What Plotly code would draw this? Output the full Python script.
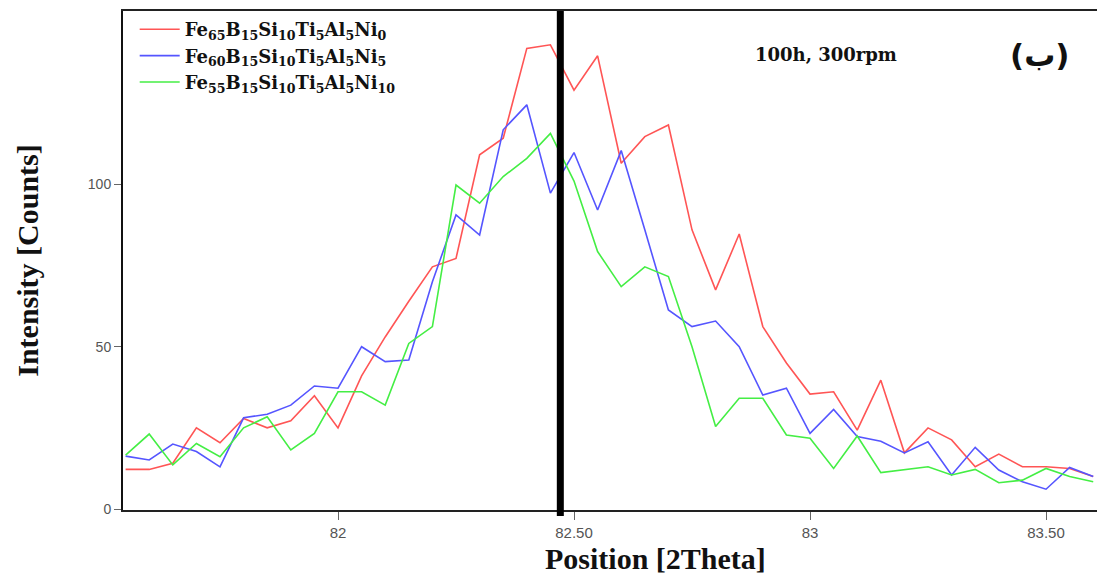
import plotly.graph_objects as go

# 2Theta positions (step 0.05)
two_theta = [round(81.55 + 0.05 * i, 2) for i in range(42)]

ni0 = [12.2, 12.2, 14.1, 25.0, 20.4, 27.9, 25.0, 27.2, 34.9, 25.0,
       41.0, 53.0, 64.0, 74.6, 77.2, 109.1, 114.2, 141.9, 143.0, 129.0,
       139.6, 106.5, 114.7, 118.3, 86.0, 67.5, 84.7, 56.2, 45.0, 35.4,
       36.1, 24.3, 39.7, 17.3, 25.0, 21.3, 13.0, 16.9, 13.0, 13.0,
       12.5, 10.0]

ni5 = [16.3, 15.1, 20.0, 17.7, 13.0, 28.1, 29.2, 32.0, 37.9, 37.2,
       50.0, 45.4, 45.9, 70.0, 90.6, 84.4, 116.8, 124.5, 97.3, 109.8,
       92.1, 110.4, 86.0, 61.3, 56.2, 57.9, 50.0, 35.1, 37.2, 23.3,
       30.7, 22.3, 20.9, 17.3, 20.7, 10.5, 19.0, 12.0, 8.4, 6.1,
       12.8, 10.0]

ni10 = [16.6, 23.1, 13.6, 20.2, 16.1, 25.0, 28.4, 18.2, 23.3, 36.1,
        36.1, 32.0, 51.0, 56.2, 99.8, 94.2, 102.4, 108.0, 115.7, 101.0,
        79.3, 68.5, 74.6, 71.6, 50.0, 25.4, 34.1, 34.1, 22.8, 21.8,
        12.5, 22.5, 11.2, 12.0, 13.0, 10.5, 12.2, 8.1, 8.9, 12.5,
        10.0, 8.4]

series_names = [
    "Fe<sub>65</sub>B<sub>15</sub>Si<sub>10</sub>Ti<sub>5</sub>Al<sub>5</sub>Ni<sub>0</sub>",
    "Fe<sub>60</sub>B<sub>15</sub>Si<sub>10</sub>Ti<sub>5</sub>Al<sub>5</sub>Ni<sub>5</sub>",
    "Fe<sub>55</sub>B<sub>15</sub>Si<sub>10</sub>Ti<sub>5</sub>Al<sub>5</sub>Ni<sub>10</sub>",
]
series_colors = ["#ff5555", "#5555ff", "#44ee44"]

x_tick_vals = [82, 82.5, 83, 83.5]
x_tick_text = ["82", "82.50", "83", "83.50"]
y_tick_vals = [0, 50, 100]
marker_position = 82.471

fig = go.Figure()
for name, vals, col in zip(series_names, [ni0, ni5, ni10], series_colors):
    fig.add_trace(go.Scatter(x=two_theta, y=vals, mode="lines", name=name,
                             line=dict(color=col, width=1.6)))

fig.add_shape(type="line", xref="x", yref="paper", x0=marker_position, x1=marker_position,
              y0=-0.012, y1=1.0, line=dict(color="black", width=7))

fig.add_annotation(text="<b>100h, 300rpm</b>", xref="paper", yref="paper",
                   x=(826 - 123) / 974, y=(510 - 55) / 499, showarrow=False,
                   xanchor="center", yanchor="middle",
                   font=dict(family="DejaVu Serif", size=18, color="#111"))
fig.add_annotation(text="<b>(ب)</b>", xref="paper", yref="paper",
                   x=(1040 - 123) / 974, y=(510 - 55) / 499, showarrow=False,
                   xanchor="center", yanchor="middle",
                   font=dict(family="DejaVu Sans", size=31, color="#111"))
fig.add_annotation(text="<b>Position [2Theta]</b>", xref="paper", yref="paper",
                   x=(655 - 123) / 974, y=-(558 - 510) / 499, showarrow=False,
                   xanchor="center", yanchor="middle",
                   font=dict(family="Liberation Serif", size=30, color="#111"))

fig.update_layout(
    width=1097, height=577,
    margin=dict(l=123, r=0, t=11, b=67),
    paper_bgcolor="white", plot_bgcolor="white",
    showlegend=True,
    legend=dict(x=0.012, y=1.0, xanchor="left", yanchor="top",
                bgcolor="rgba(0,0,0,0)", borderwidth=0,
                font=dict(family="DejaVu Serif", size=18, color="#111", weight="bold"),
                tracegroupgap=0, itemwidth=40),
)
fig.update_xaxes(range=[81.5445, 83.608], tickvals=x_tick_vals, ticktext=x_tick_text,
                 ticks="outside", ticklen=8, tickcolor="#666", tickwidth=1,
                 tickfont=dict(family="Liberation Sans Narrow, Liberation Sans", size=15, color="#555"),
                 showgrid=False, zeroline=False, showline=True, mirror=True,
                 linecolor="#222", linewidth=2, automargin=False)
fig.update_yaxes(range=[-0.3, 153.4], tickvals=y_tick_vals,
                 ticks="outside", ticklen=7, tickcolor="#666", tickwidth=1,
                 tickfont=dict(family="Liberation Sans", size=14, color="#555"),
                 showgrid=False, zeroline=False, showline=True, mirror=False,
                 linecolor="#111", linewidth=2, automargin=False,
                 title=dict(text="<b>Intensity [Counts]</b>", standoff=40,
                            font=dict(family="Liberation Serif", size=30, color="#111")))

fig.write_html("out.html")
